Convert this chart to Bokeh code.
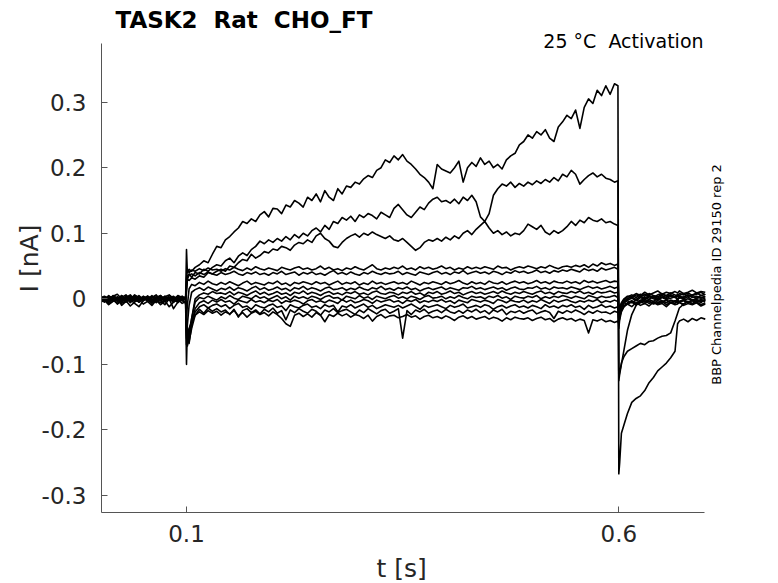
import numpy as np
from bokeh.plotting import figure
from bokeh.models import Range1d, FixedTicker, Label
from bokeh.embed import file_html
from bokeh.resources import INLINE

# ---------------- time grids (ms) ----------------
T_PRE_MS = [0, 5, 10, 15, 20, 25, 30, 35, 40, 45,
            50, 55, 60, 65, 70, 75, 80, 85, 90, 95, 99]
T_STEP_MS = [100, 101, 103, 106, 110, 115, 120, 125, 130, 135,
             140, 145, 150, 155, 160, 165, 170, 175, 180, 185,
             190, 195, 200, 205, 210, 215, 220, 225, 230, 235,
             240, 245, 250, 255, 260, 265, 270, 275, 280, 285,
             290, 295, 300, 305, 310, 315, 320, 325, 330, 335,
             340, 345, 350, 355, 360, 365, 370, 375, 380, 385,
             390, 395, 400, 405, 410, 415, 420, 425, 430, 435,
             440, 445, 450, 455, 460, 465, 470, 475, 480, 485,
             490, 495, 500, 505, 510, 515, 520, 525, 530, 535,
             540, 545, 550, 555, 560, 565, 570, 575, 580, 585,
             590, 595, 599]
T_TAIL_MS = [600, 601, 603, 606, 610, 615, 620, 625, 630, 635, 640, 645,
             650, 655, 660, 665, 668, 670, 675, 680, 685, 690, 695, 700]

# ---------------- currents (pA) ----------------
TRACE_1_PRE = [2, -3, 4, 1, -2, 5, 0, -4, 3, 1,
               -1, 4, -3, 2, 0, -2, 5, 1, -3, 2, 0]
TRACE_1_STEP = [75, 40, 45, 42, 48, 52, 58, 55, 68, 80,
                78, 90, 95, 102, 108, 118, 115, 122, 118, 128,
                133, 125, 138, 137, 130, 143, 140, 150, 146, 140,
                155, 150, 160, 148, 165, 155, 150, 168, 160, 172,
                170, 178, 175, 183, 188, 185, 196, 200, 212, 208,
                218, 212, 220, 210, 205, 198, 190, 185, 178, 168,
                205, 198, 195, 192, 200, 210, 178, 200, 208, 202,
                215, 205, 210, 200, 205, 198, 212, 218, 222, 235,
                240, 250, 245, 255, 250, 258, 245, 240, 262, 270,
                280, 275, 288, 260, 292, 305, 298, 318, 310, 325,
                312, 328, 325]
TRACE_1_TAIL = [-267, -250, -205, -192, -175, -158, -152, -148, -140, -128, -120, -110,
                -104, -98, -90, -80, -38, -34, -31, -35, -30, -33, -29, -31]

TRACE_2_PRE = [-1, 3, -4, 2, 0, -3, 4, 1, -2, 5,
               -1, 2, -4, 0, 3, -2, 1, 4, -3, 0, 1]
TRACE_2_STEP = [20, 35, 38, 33, 40, 38, 45, 42, 48, 52,
                50, 58, 62, 55, 65, 70, 66, 75, 80, 88,
                84, 90, 86, 92, 88, 95, 90, 98, 93, 100,
                96, 104, 108, 102, 112, 106, 118, 115, 124, 120,
                126, 118, 128, 124, 130, 127, 122, 132, 128, 124,
                138, 144, 136, 128, 124, 132, 140, 136, 146, 152,
                155, 148, 150, 146, 152, 145, 155, 150, 158, 148,
                125, 118, 130, 158, 168, 175, 172, 178, 170, 176,
                172, 178, 174, 180, 176, 182, 178, 185, 180, 190,
                186, 196, 190, 175, 182, 188, 192, 186, 190, 184,
                182, 178, 180]
TRACE_2_TAIL = [-120, -112, -98, -88, -80, -76, -72, -68, -70, -65, -64, -60,
                -57, -56, -52, -34, -22, -14, -8, -4, -8, -2, -6, 0]

TRACE_3_PRE = [4, 0, -2, 5, 1, -3, 2, 6, -1, 0,
               3, -4, 2, 1, -2, 4, 0, -3, 5, 2, -1]
TRACE_3_STEP = [15, 30, 28, 32, 30, 35, 33, 40, 38, 42,
                45, 42, 50, 48, 55, 60, 58, 68, 62, 66,
                72, 70, 76, 74, 80, 78, 74, 82, 86, 84,
                90, 86, 96, 100, 92, 88, 80, 78, 86, 92,
                96, 99, 94, 100, 97, 102, 98, 95, 92, 96,
                90, 88, 92, 86, 80, 74, 78, 86, 90, 88,
                92, 88, 94, 90, 96, 92, 100, 104, 98, 106,
                112, 118, 108, 100, 104, 98, 102, 96, 100, 98,
                104, 114, 110, 106, 112, 102, 98, 104, 100, 104,
                110, 118, 112, 120, 116, 124, 120, 118, 122, 116,
                118, 114, 112]
TRACE_3_TAIL = [-125, -115, -100, -78, -48, -24, -10, -3, 2, -1, 4, 1,
                5, 2, 6, 3, 0, 4, 2, 6, 3, 1, 5, 3]

TRACE_4_PRE = [3, -2, 5, 0, -4, 2, 6, -1, 3, -3,
               1, 4, -2, 0, 5, -1, 2, -4, 3, 0, 2]
TRACE_4_STEP = [30, 45, 40, 44, 42, 46, 43, 47, 44, 45,
                42, 46, 44, 48, 45, 43, 47, 44, 49, 46,
                44, 47, 45, 43, 48, 46, 44, 47, 49, 45,
                47, 44, 46, 50, 45, 48, 44, 46, 43, 47,
                45, 49, 46, 44, 48, 52, 46, 44, 47, 45,
                48, 46, 50, 45, 47, 44, 49, 46, 48, 45,
                47, 50, 46, 48, 44, 47, 45, 49, 46, 48,
                46, 49, 47, 45, 50, 47, 48, 44, 47, 49,
                47, 50, 48, 46, 49, 47, 51, 48, 46, 49,
                50, 48, 51, 49, 52, 48, 53, 50, 55, 52,
                54, 51, 53]
TRACE_4_TAIL = [-30, -20, -12, -5, 0, 4, 8, 5, 10, 6, 9, 12,
                7, 10, 8, 11, 9, 12, 8, 10, 13, 9, 11, 10]

TRACE_5_PRE = [-2, 4, 1, -3, 3, 0, -5, 2, 4, -1,
               3, 0, -3, 2, 5, -2, 1, 3, -1, 4, 0]
TRACE_5_STEP = [10, 30, 36, 38, 35, 40, 37, 41, 38, 36,
                40, 37, 39, 42, 38, 36, 40, 38, 41, 37,
                39, 36, 40, 38, 42, 37, 39, 41, 36, 40,
                38, 41, 37, 39, 36, 40, 43, 38, 40, 37,
                41, 38, 36, 40, 38, 42, 39, 37, 40, 38,
                39, 42, 37, 40, 38, 36, 41, 39, 37, 40,
                42, 38, 40, 37, 41, 39, 43, 38, 40, 42,
                39, 41, 38, 42, 40, 37, 41, 39, 43, 40,
                42, 39, 41, 44, 40, 42, 39, 43, 41, 44,
                42, 45, 43, 41, 46, 43, 45, 42, 47, 44,
                46, 48, 45]
TRACE_5_TAIL = [-25, -15, -8, -2, 3, 6, 2, 7, 4, 8, 5, 3,
                7, 5, 9, 6, 4, 8, 6, 9, 5, 7, 10, 6]

TRACE_6_PRE = [5, 1, -2, 4, 7, 0, 3, -1, 6, 2,
               -3, 4, 1, 5, -2, 3, 6, 0, 4, 1, 3]
TRACE_6_STEP = [-30, -10, 15, 22, 20, 25, 22, 27, 23, 21,
                25, 22, 26, 23, 20, 24, 27, 22, 25, 23,
                21, 25, 23, 27, 22, 24, 20, 25, 23, 26,
                24, 22, 26, 23, 25, 21, 24, 27, 22, 25,
                23, 26, 21, 24, 22, 27, 23, 25, 22, 24,
                26, 23, 25, 22, 27, 24, 21, 25, 23, 26,
                24, 22, 26, 23, 25, 28, 24, 22, 26, 23,
                25, 22, 27, 24, 23, 26, 22, 25, 27, 24,
                26, 23, 25, 28, 24, 26, 23, 27, 25, 24,
                27, 24, 26, 23, 28, 25, 27, 24, 26, 28,
                25, 27, 26]
TRACE_6_TAIL = [-20, -12, -6, 0, 4, 2, 6, 3, 7, 4, 2, 6,
                8, 4, 6, 3, 7, 5, 8, 4, 6, 9, 5, 7]

TRACE_7_PRE = [-4, 0, 3, -2, 1, -6, 2, 4, -3, 0,
               2, -1, 5, -4, 1, 3, -2, 0, 4, -3, 1]
TRACE_7_STEP = [-60, -40, -10, 10, 14, 17, 13, 18, 15, 12,
                16, 14, 18, 13, 17, 15, 12, 16, 19, 14,
                17, 13, 15, 18, 14, 16, 12, 17, 15, 19,
                14, 17, 15, 12, 16, 18, 14, 15, 17, 13,
                16, 14, 18, 15, 13, 17, 15, 19, 14, 16,
                13, 17, 15, 18, 14, 16, 12, 15, 17, 14,
                16, 18, 14, 17, 15, 13, 17, 16, 19, 15,
                17, 14, 16, 18, 15, 17, 13, 16, 18, 15,
                14, 17, 16, 19, 15, 17, 14, 18, 16, 17,
                15, 18, 16, 14, 17, 19, 16, 18, 15, 17,
                19, 16, 18]
TRACE_7_TAIL = [-35, -22, -10, -4, 0, 3, -1, 4, 1, 5, 2, -1,
                3, 0, 4, 2, 5, 1, 3, 6, 2, 4, 1, 3]

TRACE_8_PRE = [2, -5, 0, 3, -3, 5, -1, 1, -4, 3,
               0, -2, 2, 6, -3, 0, 2, -5, 1, 3, -1]
TRACE_8_STEP = [-40, -65, -50, -30, 0, 6, 9, 7, 11, 8,
                9, 7, 11, 6, 10, 8, 5, 9, 12, 7,
                10, 6, 8, 11, 7, 9, 5, 10, 8, 12,
                7, 10, 8, 5, 9, 11, 7, 9, 6, 10,
                8, 11, 7, 9, 6, 10, 12, 8, 7, 10,
                9, 6, 10, 8, 11, 7, 9, 5, 10, 8,
                11, 7, 9, 12, 8, 10, 6, 9, 11, 8,
                10, 7, 9, 11, 8, 12, 9, 7, 10, 8,
                11, 9, 7, 10, 12, 8, 10, 7, 11, 9,
                8, 11, 9, 12, 8, 10, 7, 11, 9, 10,
                12, 9, 10]
TRACE_8_TAIL = [-40, -28, -14, -6, -2, 1, -3, 2, -1, 3, 0, -2,
                2, -1, 1, 3, -1, 2, 0, 3, -2, 1, 2, 0]

TRACE_9_PRE = [-3, 1, -6, 0, 2, -4, 1, -2, 3, -5,
               0, 2, -3, -1, 3, -4, 0, 1, -6, 2, -2]
TRACE_9_STEP = [-50, -72, -60, -30, -5, 2, 0, 4, 1, -2,
                3, 0, 5, 1, -1, 4, 2, 0, 5, 1,
                3, -1, 2, 5, 0, 3, -2, 4, 1, 3,
                0, 4, 2, -1, 3, 5, 1, 2, -2, 4,
                2, 0, 5, 1, 3, -1, 4, 2, 0, 3,
                5, 1, 3, 0, 4, 2, -1, 3, 5, 1,
                2, 4, 0, 3, 1, 5, 2, 0, 4, 2,
                3, 0, 4, 2, 5, 1, 3, -1, 4, 2,
                1, 4, 2, 5, 0, 3, 1, 4, 2, 5,
                3, 1, 4, 2, 0, 5, 3, 1, 4, 2,
                3, 5, 2]
TRACE_9_TAIL = [-25, -18, -10, -5, -3, -6, -2, -5, -1, -4, -7, -3,
                -5, -2, -6, -4, -1, -5, -3, -6, -2, -4, -1, -3]

TRACE_10_PRE = [0, -4, 2, -2, -7, 1, -3, 3, -1, -5,
                2, -2, 0, -6, 1, -3, 2, -1, -4, 0, -2]
TRACE_10_STEP = [-20, -60, -68, -40, -15, -6, -3, -7, -2, -5,
                 -1, -5, -3, -8, -2, -4, -6, -1, -5, -3,
                 -6, -2, -4, -1, -7, -3, -5, -2, -4, -8,
                 -3, -1, -5, -3, -6, -2, -4, -7, -1, -5,
                 -2, -6, -4, -1, -3, -7, -2, -5, -3, -1,
                 -5, -3, -7, -2, -4, -1, -6, -3, -5, -2,
                 -4, -1, -5, -3, -7, -2, -4, -6, -1, -3,
                 -5, -2, -4, -7, -1, -3, -6, -2, -4, -5,
                 -2, -6, -3, -5, -1, -4, -7, -2, -5, -3,
                 -1, -4, -6, -3, -5, -2, -4, -1, -6, -3,
                 -5, -2, -4]
TRACE_10_TAIL = [-30, -20, -14, -10, -8, -12, -6, -10, -7, -11, -5, -9,
                 -7, -12, -6, -9, -8, -5, -10, -7, -9, -6, -11, -8]

TRACE_11_PRE = [-6, -2, -9, -4, 0, -7, -3, -11, -5, -1,
                -8, -4, -10, -2, -6, -3, -12, -5, -1, -7, -4]
TRACE_11_STEP = [-40, -55, -45, -35, -20, -12, -9, -14, -10, -8,
                 -12, -9, -15, -10, -7, -13, -11, -16, -9, -12,
                 -14, -10, -8, -13, -11, -18, -9, -12, -14, -10,
                 -8, -13, -11, -15, -9, -12, -10, -20, -11, -13,
                 -9, -14, -11, -8, -13, -10, -15, -12, -9, -11,
                 -13, -10, -14, -11, -8, -12, -16, -10, -13, -11,
                 -9, -12, -15, -10, -13, -11, -8, -14, -12, -10,
                 -13, -9, -11, -16, -12, -10, -14, -11, -9, -13,
                 -11, -14, -10, -12, -15, -9, -13, -11, -14, -10,
                 -12, -9, -13, -11, -16, -10, -14, -12, -9, -13,
                 -11, -14, -12]
TRACE_11_TAIL = [-45, -32, -20, -12, -6, -3, -7, -2, -5, -1, -4, 0,
                 -3, -6, -2, -4, -1, -5, -2, 0, -3, -1, -4, -2]

TRACE_12_PRE = [-2, 3, -5, 1, -8, -3, 2, -6, 0, -4,
                4, -1, -7, 2, -3, -9, 0, -5, 3, -2, -6]
TRACE_12_STEP = [-70, -50, -65, -45, -25, -16, -22, -14, -19, -15,
                 -20, -17, -24, -16, -28, -18, -15, -21, -17, -23,
                 -16, -20, -14, -22, -18, -32, -17, -21, -15, -19,
                 -22, -16, -19, -25, -17, -20, -15, -21, -18, -16,
                 -20, -24, -17, -21, -15, -19, -23, -18, -16, -22,
                 -19, -15, -60, -18, -24, -17, -20, -16, -22, -19,
                 -17, -21, -16, -20, -22, -18, -22, -17, -20, -16,
                 -21, -18, -23, -17, -20, -16, -24, -19, -21, -18,
                 -22, -19, -17, -23, -20, -18, -21, -30, -19, -22,
                 -18, -21, -17, -20, -24, -19, -22, -18, -21, -20,
                 -23, -19, -21]
TRACE_12_TAIL = [-20, -15, -10, -6, -8, -4, -9, -5, -7, -3, -8, -6,
                 -4, -9, -5, -7, -3, -6, -8, -4, -7, -5, -9, -6]

TRACE_13_PRE = [-5, 0, -8, -3, 2, -10, -4, -1, -7, -12,
                -3, 1, -6, -2, -9, -4, 0, -15, -5, -2, -7]
TRACE_13_STEP = [-100, -45, -60, -35, -25, -20, -24, -18, -22, -19,
                 -25, -20, -23, -18, -26, -21, -28, -22, -19, -24,
                 -21, -26, -20, -24, -30, -38, -42, -25, -22, -27,
                 -23, -28, -21, -25, -35, -24, -27, -22, -26, -23,
                 -28, -24, -26, -30, -25, -34, -27, -24, -29, -26,
                 -25, -29, -27, -24, -28, -26, -31, -27, -25, -29,
                 -27, -30, -26, -29, -33, -28, -26, -30, -27, -31,
                 -29, -27, -31, -28, -30, -34, -29, -32, -28, -30,
                 -31, -29, -33, -30, -28, -32, -30, -35, -31, -29,
                 -32, -30, -34, -31, -33, -52, -32, -34, -31, -35,
                 -33, -36, -34]
TRACE_13_TAIL = [-38, -28, -18, -12, -8, -5, -9, -6, -3, -7, -4, -8,
                 -5, -2, -6, -3, -7, -4, -1, -5, -3, -6, -2, -4]

TRACES = [
    (TRACE_1_PRE, TRACE_1_STEP, TRACE_1_TAIL),
    (TRACE_2_PRE, TRACE_2_STEP, TRACE_2_TAIL),
    (TRACE_3_PRE, TRACE_3_STEP, TRACE_3_TAIL),
    (TRACE_4_PRE, TRACE_4_STEP, TRACE_4_TAIL),
    (TRACE_5_PRE, TRACE_5_STEP, TRACE_5_TAIL),
    (TRACE_6_PRE, TRACE_6_STEP, TRACE_6_TAIL),
    (TRACE_7_PRE, TRACE_7_STEP, TRACE_7_TAIL),
    (TRACE_8_PRE, TRACE_8_STEP, TRACE_8_TAIL),
    (TRACE_9_PRE, TRACE_9_STEP, TRACE_9_TAIL),
    (TRACE_10_PRE, TRACE_10_STEP, TRACE_10_TAIL),
    (TRACE_11_PRE, TRACE_11_STEP, TRACE_11_TAIL),
    (TRACE_12_PRE, TRACE_12_STEP, TRACE_12_TAIL),
    (TRACE_13_PRE, TRACE_13_STEP, TRACE_13_TAIL),
]

X_TICKS = [0.1, 0.6]
X_TICK_LABELS = ["0.1", "0.6"]
Y_TICKS = [-0.3, -0.2, -0.1, 0.0, 0.1, 0.2, 0.3]
Y_TICK_LABELS = ["-0.3", "-0.2", "-0.1", "0", "0.1", "0.2", "0.3"]

TITLE = "TASK2 \u00a0Rat \u00a0CHO_FT"
CONDITION = "25 °C \u00a0Activation"
SOURCE = "BBP Channelpedia ID 29150 rep 2"
X_LABEL = "t [s]"
Y_LABEL = "I [nA]"

# axis extents (data units) and the wider frame that also holds the labels
X_AXIS = (0.0017, 0.6995)
Y_AXIS = (-0.326, 0.3895)
X_VIEW = (0.0017, 0.7419)
Y_VIEW = (-0.326, 0.449)

# ---------------- figure ----------------
FONT = "DejaVu Sans"
p = figure(frame_width=640, frame_height=508,
           min_border_left=101, min_border_right=10,
           min_border_top=4, min_border_bottom=55,
           x_range=Range1d(*X_VIEW), y_range=Range1d(*Y_VIEW),
           output_backend="svg", toolbar_location=None, tools="")
p.outline_line_color = None
p.background_fill_color = "white"
p.border_fill_color = "white"
p.grid.visible = False

t_all = np.array(T_PRE_MS + T_STEP_MS + T_TAIL_MS, dtype=float) / 1000.0
for pre, step, tail in TRACES:
    vals = np.array(pre + step + tail, dtype=float) / 1000.0
    n = min(len(vals), len(t_all))
    p.line(t_all[:n], vals[:n], line_color="black", line_width=1.6,
           line_join="round")

for ax in (p.xaxis[0], p.yaxis[0]):
    ax.axis_line_color = "#555555"
    ax.axis_line_width = 1
    ax.major_tick_line_color = "#555555"
    ax.major_tick_in = 6
    ax.major_tick_out = 0
    ax.minor_tick_line_color = None
    ax.major_label_text_font = FONT
    ax.major_label_text_font_size = "23px"
    ax.major_label_text_color = "#262626"
    ax.axis_label_text_font = FONT
    ax.axis_label_text_font_size = "25px"
    ax.axis_label_text_font_style = "normal"
    ax.axis_label_text_color = "#262626"

p.xaxis.bounds = X_AXIS
p.yaxis.bounds = Y_AXIS
p.xaxis.ticker = FixedTicker(ticks=X_TICKS)
p.xaxis.major_label_overrides = dict(zip(X_TICKS, X_TICK_LABELS))
p.yaxis.ticker = FixedTicker(ticks=Y_TICKS)
p.yaxis.major_label_overrides = dict(zip(Y_TICKS, Y_TICK_LABELS))
# the frame is wider than the x axis (room for the side note), so trailing
# no-break spaces move the centred x label back under the axis' middle
p.xaxis.axis_label = X_LABEL + "\u00a0" * 5
p.yaxis.axis_label = Y_LABEL
p.xaxis.major_label_standoff = 12
p.xaxis.axis_label_standoff = 9
p.yaxis.major_label_standoff = 15
p.yaxis.axis_label_standoff = -5

p.add_layout(Label(x=0.0179, y=0.4261, text=TITLE, text_font=FONT,
                   text_font_size="23px", text_font_style="bold",
                   text_color="black", text_baseline="alphabetic",
                   text_align="left"))
p.add_layout(Label(x=0.698, y=0.3937, text=CONDITION, text_font=FONT,
                   text_font_size="19px", text_color="black",
                   text_baseline="alphabetic", text_align="right"))
p.add_layout(Label(x=0.7130, y=0.0371, text=SOURCE, text_font=FONT,
                   text_font_size="13px", text_color="black",
                   angle=np.pi / 2, text_baseline="middle",
                   text_align="center"))

open("out.html", "w").write(file_html(p, INLINE))
